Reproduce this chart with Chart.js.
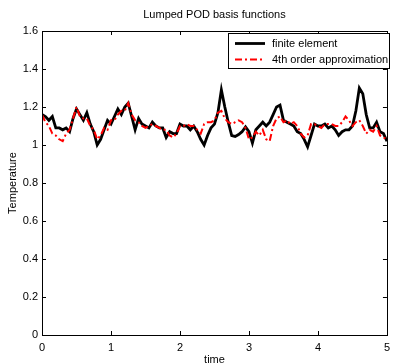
<!DOCTYPE html>
<html>
<head>
<meta charset="utf-8">
<script src="https://cdn.jsdelivr.net/npm/chart.js@4/dist/chart.umd.min.js"></script>
<style>
html,body{margin:0;padding:0;background:#fff;}
#wrap{width:396px;height:364px;position:relative;}
</style>
</head>
<body>
<div id="wrap"><canvas id="c" width="396" height="364"></canvas></div>
<script>
const chartTitle = "Lumped POD basis functions";
const xLabel = "time";
const yLabel = "Temperature";
const seriesNames = ["finite element", "4th order approximation"];
const xTicks = [0, 1, 2, 3, 4, 5];
const yTicks = [0, 0.2, 0.4, 0.6, 0.8, 1.0, 1.2, 1.4, 1.6];

const time = [0.00,0.05,0.10,0.15,0.20,0.25,0.30,0.35,0.40,0.45,0.50,0.55,0.60,0.65,0.70,0.75,0.80,0.85,0.90,0.95,
1.00,1.05,1.10,1.15,1.20,1.25,1.30,1.35,1.40,1.45,1.50,1.55,1.60,1.65,1.70,1.75,1.80,1.85,1.90,1.95,
2.00,2.05,2.10,2.15,2.20,2.25,2.30,2.35,2.40,2.45,2.50,2.55,2.60,2.65,2.70,2.75,2.80,2.85,2.90,2.95,
3.00,3.05,3.10,3.15,3.20,3.25,3.30,3.35,3.40,3.45,3.50,3.55,3.60,3.65,3.70,3.75,3.80,3.85,3.90,3.95,
4.00,4.05,4.10,4.15,4.20,4.25,4.30,4.35,4.40,4.45,4.50,4.55,4.60,4.65,4.70,4.75,4.80,4.85,4.90,4.95,5.00];

const finiteElement = [1.16,1.15,1.13,1.15,1.09,1.09,1.08,1.09,1.07,1.14,1.19,1.16,1.13,1.17,1.11,1.07,1.00,1.03,1.08,1.13,
1.11,1.15,1.19,1.16,1.20,1.22,1.15,1.08,1.14,1.11,1.10,1.09,1.12,1.10,1.09,1.09,1.04,1.07,1.06,1.06,
1.11,1.10,1.10,1.08,1.10,1.07,1.03,1.00,1.05,1.09,1.11,1.17,1.29,1.20,1.12,1.05,1.045,1.055,1.07,1.095,
1.07,1.01,1.08,1.10,1.12,1.10,1.12,1.16,1.20,1.21,1.13,1.12,1.11,1.10,1.07,1.06,1.03,0.99,1.05,1.11,
1.10,1.10,1.11,1.09,1.10,1.08,1.05,1.07,1.08,1.08,1.10,1.18,1.30,1.27,1.16,1.09,1.09,1.12,1.07,1.06,1.02];

const approx4th = [1.16,1.12,1.10,1.06,1.05,1.03,1.02,1.06,1.08,1.14,1.20,1.15,1.14,1.14,1.10,1.08,1.03,1.05,1.09,1.08,
1.13,1.13,1.16,1.18,1.18,1.22,1.16,1.13,1.12,1.10,1.09,1.10,1.11,1.10,1.09,1.08,1.08,1.05,1.04,1.06,
1.10,1.10,1.11,1.10,1.10,1.08,1.06,1.11,1.12,1.12,1.13,1.17,1.18,1.14,1.12,1.11,1.12,1.13,1.12,1.09,
1.03,1.04,1.07,1.05,1.08,1.03,1.02,1.10,1.14,1.15,1.12,1.13,1.11,1.12,1.10,1.06,1.04,1.05,1.11,1.11,
1.10,1.09,1.11,1.11,1.11,1.10,1.10,1.12,1.15,1.13,1.10,1.12,1.13,1.10,1.06,1.08,1.07,1.10,1.05,1.04,1.03];

const FONT = "'Liberation Sans', Arial, Helvetica, sans-serif";
const RED_DASH = [7, 3, 2, 3];

const matlabPlugin = {
  id: 'matlab',
  afterDraw(chart) {
    const ctx = chart.ctx;
    const a = chart.chartArea;
    const xs = chart.scales.x, ys = chart.scales.y;
    ctx.save();
    ctx.strokeStyle = '#000';
    ctx.lineWidth = 1;
    ctx.strokeRect(Math.round(a.left) + 0.5, Math.round(a.top) + 0.5, Math.round(a.right - a.left), Math.round(a.bottom - a.top));
    const tl = 4;
    ctx.beginPath();
    xTicks.forEach(v => {
      const px = Math.round(xs.getPixelForValue(v)) + 0.5;
      ctx.moveTo(px, a.bottom); ctx.lineTo(px, a.bottom - tl);
      ctx.moveTo(px, a.top); ctx.lineTo(px, a.top + tl);
    });
    yTicks.forEach(v => {
      const py = Math.round(ys.getPixelForValue(v)) + 0.5;
      ctx.moveTo(a.left, py); ctx.lineTo(a.left + tl, py);
      ctx.moveTo(a.right, py); ctx.lineTo(a.right - tl, py);
    });
    ctx.stroke();
    ctx.fillStyle = '#000';
    ctx.font = '11px ' + FONT;
    ctx.textAlign = 'center';
    ctx.textBaseline = 'middle';
    ctx.fillText(chartTitle, (a.left + a.right) / 2, 15);
    ctx.fillText(xLabel, (a.left + a.right) / 2, 360);
    ctx.save();
    ctx.translate(13, (a.top + a.bottom) / 2);
    ctx.rotate(-Math.PI / 2);
    ctx.fillText(yLabel, 0, 0);
    ctx.restore();
    const lx = 228.5, ly = 33.5, lw = 161, lh = 35;
    ctx.fillStyle = '#fff';
    ctx.fillRect(lx, ly, lw, lh);
    ctx.strokeStyle = '#000';
    ctx.lineWidth = 1;
    ctx.strokeRect(lx, ly, lw, lh);
    const rows = [ly + 10, ly + 26];
    ctx.lineWidth = 2.8;
    ctx.strokeStyle = '#000';
    ctx.beginPath(); ctx.moveTo(235, rows[0]); ctx.lineTo(265, rows[0]); ctx.stroke();
    ctx.strokeStyle = '#ff0000';
    ctx.lineWidth = 2;
    ctx.setLineDash(RED_DASH);
    ctx.beginPath(); ctx.moveTo(235, rows[1]); ctx.lineTo(265, rows[1]); ctx.stroke();
    ctx.setLineDash([]);
    ctx.fillStyle = '#000';
    ctx.textAlign = 'left';
    ctx.fillText(seriesNames[0], 272, rows[0]);
    ctx.fillText(seriesNames[1], 272, rows[1]);
    ctx.restore();
  }
};

new Chart(document.getElementById('c'), {
  type: 'line',
  data: {
    datasets: [
      {
        label: seriesNames[0],
        data: time.map((t, i) => ({x: t, y: finiteElement[i]})),
        borderColor: '#000',
        borderWidth: 2.8,
        pointRadius: 0,
        tension: 0,
        fill: false,
        order: 2
      },
      {
        label: seriesNames[1],
        data: time.map((t, i) => ({x: t, y: approx4th[i]})),
        borderColor: '#ff0000',
        borderWidth: 2,
        borderDash: RED_DASH,
        pointRadius: 0,
        tension: 0,
        fill: false,
        order: 1
      }
    ]
  },
  options: {
    responsive: false,
    animation: false,
    devicePixelRatio: 1,
    layout: { padding: { top: 31, right: 3, left: 0, bottom: 0 } },
    plugins: { legend: { display: false }, title: { display: false }, tooltip: { enabled: false } },
    scales: {
      x: {
        type: 'linear', min: 0, max: 5,
        afterFit(s) { s.height = 29; },
        afterBuildTicks(s) { s.ticks = xTicks.map(v => ({value: v})); },
        grid: { display: false, drawTicks: false },
        border: { display: false },
        ticks: { color: '#000', font: { family: FONT, size: 11 }, padding: 6, maxRotation: 0, callback: v => String(v) }
      },
      y: {
        type: 'linear', min: 0, max: 1.6,
        afterFit(s) { s.width = 42; },
        afterBuildTicks(s) { s.ticks = yTicks.map(v => ({value: v})); },
        grid: { display: false, drawTicks: false },
        border: { display: false },
        ticks: { color: '#000', font: { family: FONT, size: 11 }, padding: 4, callback: v => String(Math.round(v * 10) / 10) }
      }
    }
  },
  plugins: [matlabPlugin]
});
</script>
</body>
</html>
